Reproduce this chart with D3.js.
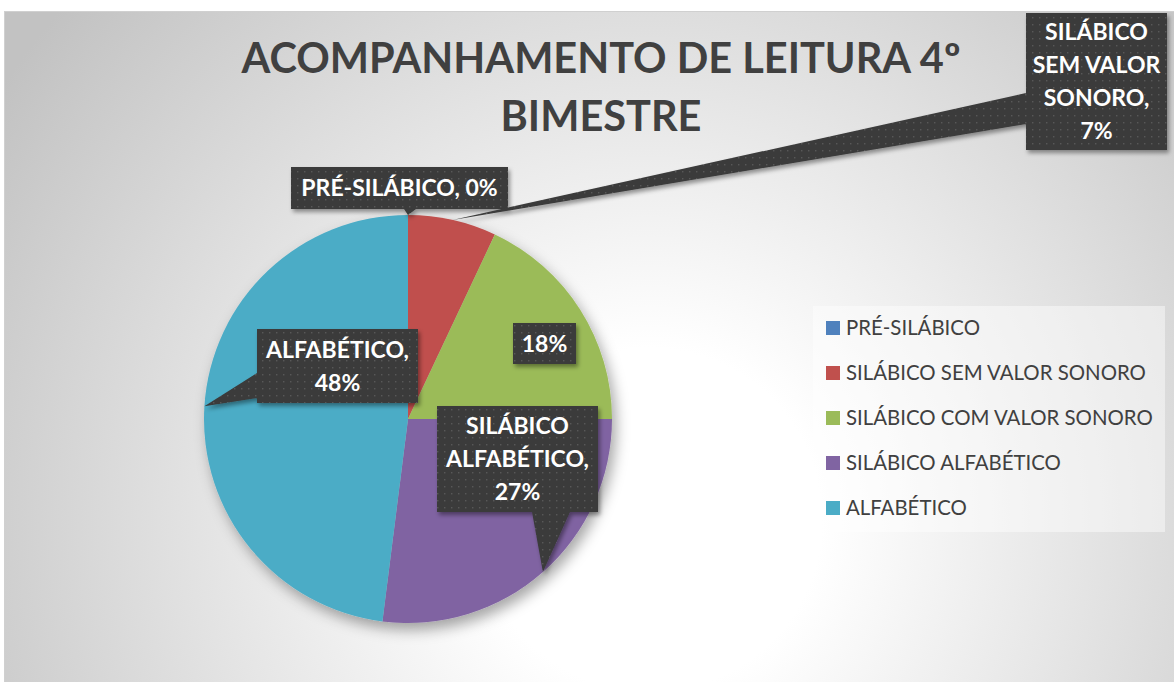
<!DOCTYPE html>
<html>
<head>
<meta charset="utf-8">
<script src="https://cdn.jsdelivr.net/npm/d3@7"></script>
<style>
  html, body { margin: 0; padding: 0; background: #fff; }
  svg { display: block; }
</style>
</head>
<body>
<svg id="chart" width="1174" height="682"></svg>
<script>
// data
const categories = ["PRÉ-SILÁBICO", "SILÁBICO SEM VALOR SONORO", "SILÁBICO COM VALOR SONORO", "SILÁBICO ALFABÉTICO", "ALFABÉTICO"];
const values = [0, 7, 18, 27, 48];
const colors = ["#4f81bd", "#c0504d", "#9bbb59", "#8064a2", "#4bacc6"];
const titleLines = ["ACOMPANHAMENTO DE LEITURA 4º", "BIMESTRE"];

// label text per slice (lines)
const labelLines = [
    ["PRÉ-SILÁBICO, 0%"],
    ["SILÁBICO", "SEM VALOR", "SONORO,", "7%"],
    ["18%"],
    ["SILÁBICO", "ALFABÉTICO,", "27%"],
    ["ALFABÉTICO,", "48%"]
];

function init() {
    const width = 1174, height = 682;
    const cx = 408, cy = 419, radius = 204;
    const svg = d3.select("#chart");
    const defs = svg.append("defs");

    // background gradient
    const bg = defs.append("radialGradient")
        .attr("id", "bg")
        .attr("gradientUnits", "userSpaceOnUse")
        .attr("cx", 650).attr("cy", 520).attr("r", 780);
    bg.append("stop").attr("offset", "0").attr("stop-color", "#ffffff");
    bg.append("stop").attr("offset", "0.22").attr("stop-color", "#ffffff");
    bg.append("stop").attr("offset", "1").attr("stop-color", "#c2c2c2");

    // dotted fill for labels
    const pat = defs.append("pattern")
        .attr("id", "dots")
        .attr("patternUnits", "userSpaceOnUse")
        .attr("width", 7).attr("height", 7);
    pat.append("rect").attr("width", 7).attr("height", 7).attr("fill", "#3a3a3a");
    pat.append("rect").attr("x", 3).attr("y", 3).attr("width", 1.4).attr("height", 1.4).attr("fill", "#585858");

    const pieShadow = defs.append("filter").attr("id", "pieShadow")
        .attr("x", "-20%").attr("y", "-20%").attr("width", "140%").attr("height", "140%");
    pieShadow.append("feDropShadow")
        .attr("dx", 4).attr("dy", 7).attr("stdDeviation", 7)
        .attr("flood-color", "#000").attr("flood-opacity", 0.35);

    const lblShadow = defs.append("filter").attr("id", "lblShadow")
        .attr("x", "-20%").attr("y", "-20%").attr("width", "140%").attr("height", "140%");
    lblShadow.append("feDropShadow")
        .attr("dx", 2).attr("dy", 3).attr("stdDeviation", 2)
        .attr("flood-color", "#000").attr("flood-opacity", 0.4);

    // chart area
    svg.append("rect")
        .attr("x", 4.5).attr("y", 11.5)
        .attr("width", width - 4).attr("height", height - 11)
        .attr("fill", "url(#bg)")
        .attr("stroke", "#d0d0d0");

    // title
    svg.append("g").selectAll("text")
        .data(titleLines)
        .enter()
        .append("text")
        .attr("x", 601)
        .attr("y", (d, i) => 73 + i * 58)
        .attr("text-anchor", "middle")
        .attr("font-family", "Lato, 'Open Sans', sans-serif")
        .attr("font-weight", "bold")
        .attr("font-size", "41.5px")
        .attr("fill", "#404040")
        .text(d => d);

    // pie
    const pie = d3.pie().sort(null).value(d => d);
    const arcs = pie(values);
    const arc = d3.arc().innerRadius(0).outerRadius(radius);

    const pieG = svg.append("g")
        .attr("transform", `translate(${cx},${cy})`)
        .attr("filter", "url(#pieShadow)");
    pieG.selectAll("path")
        .data(arcs)
        .enter()
        .append("path")
        .attr("d", arc)
        .attr("fill", (d, i) => colors[i]);

    // label boxes (placement only)
    const boxes = [
        {x: 291, y: 167, w: 217, h: 42, base: [[404, 209], [416, 209]], tipAt: "start"},
        {x: 1026, y: 13, w: 141, h: 137, base: [[1026, 93], [1026, 124]]},
        {x: 513, y: 323, w: 63, h: 41, base: null},
        {x: 437, y: 406, w: 161, h: 106, base: [[532, 512], [570, 512]]},
        {x: 257, y: 329, w: 161, h: 74, base: [[257, 373], [257, 398]]}
    ];

    const lineH = 33;
    const labelG = svg.append("g");
    arcs.forEach((a, i) => {
        const b = boxes[i];
        const g = labelG.append("g").attr("filter", "url(#lblShadow)");
        let p = `M${b.x},${b.y}h${b.w}v${b.h}h${-b.w}Z`;
        if (b.base) {
            const ang = b.tipAt === "start" ? a.startAngle : (a.startAngle + a.endAngle) / 2;
            const tx = cx + radius * Math.sin(ang);
            const ty = cy - radius * Math.cos(ang);
            p += `M${b.base[0][0]},${b.base[0][1]}L${tx},${ty}L${b.base[1][0]},${b.base[1][1]}Z`;
        }
        g.append("path").attr("d", p).attr("fill", "url(#dots)");
        const lines = labelLines[i];
        const midY = b.y + b.h / 2;
        const t = labelG.append("text")
            .attr("text-anchor", "middle")
            .attr("font-family", "Lato, 'Open Sans', sans-serif")
            .attr("font-weight", "bold")
            .attr("font-size", "23px")
            .attr("fill", "#ffffff");
        lines.forEach((ln, j) => {
            t.append("tspan")
                .attr("x", b.x + b.w / 2)
                .attr("y", midY + (j - (lines.length - 1) / 2) * lineH + 8)
                .text(ln);
        });
    });

    // legend
    const legend = svg.append("g").attr("transform", "translate(813,306)");
    legend.append("rect")
        .attr("width", 352).attr("height", 226)
        .attr("fill", "#ffffff").attr("fill-opacity", 0.45);
    const item = legend.selectAll("g.item")
        .data(categories)
        .enter()
        .append("g")
        .attr("class", "item")
        .attr("transform", (d, i) => `translate(0,${22 + i * 45})`);
    item.append("rect")
        .attr("x", 13).attr("y", -7)
        .attr("width", 14).attr("height", 14)
        .attr("fill", (d, i) => colors[i]);
    item.append("text")
        .attr("x", 33).attr("y", 7)
        .attr("font-family", "Lato, 'Open Sans', sans-serif")
        .attr("font-size", "20.4px")
        .attr("fill", "#404040")
        .text(d => d);
}
init();
</script>
</body>
</html>
